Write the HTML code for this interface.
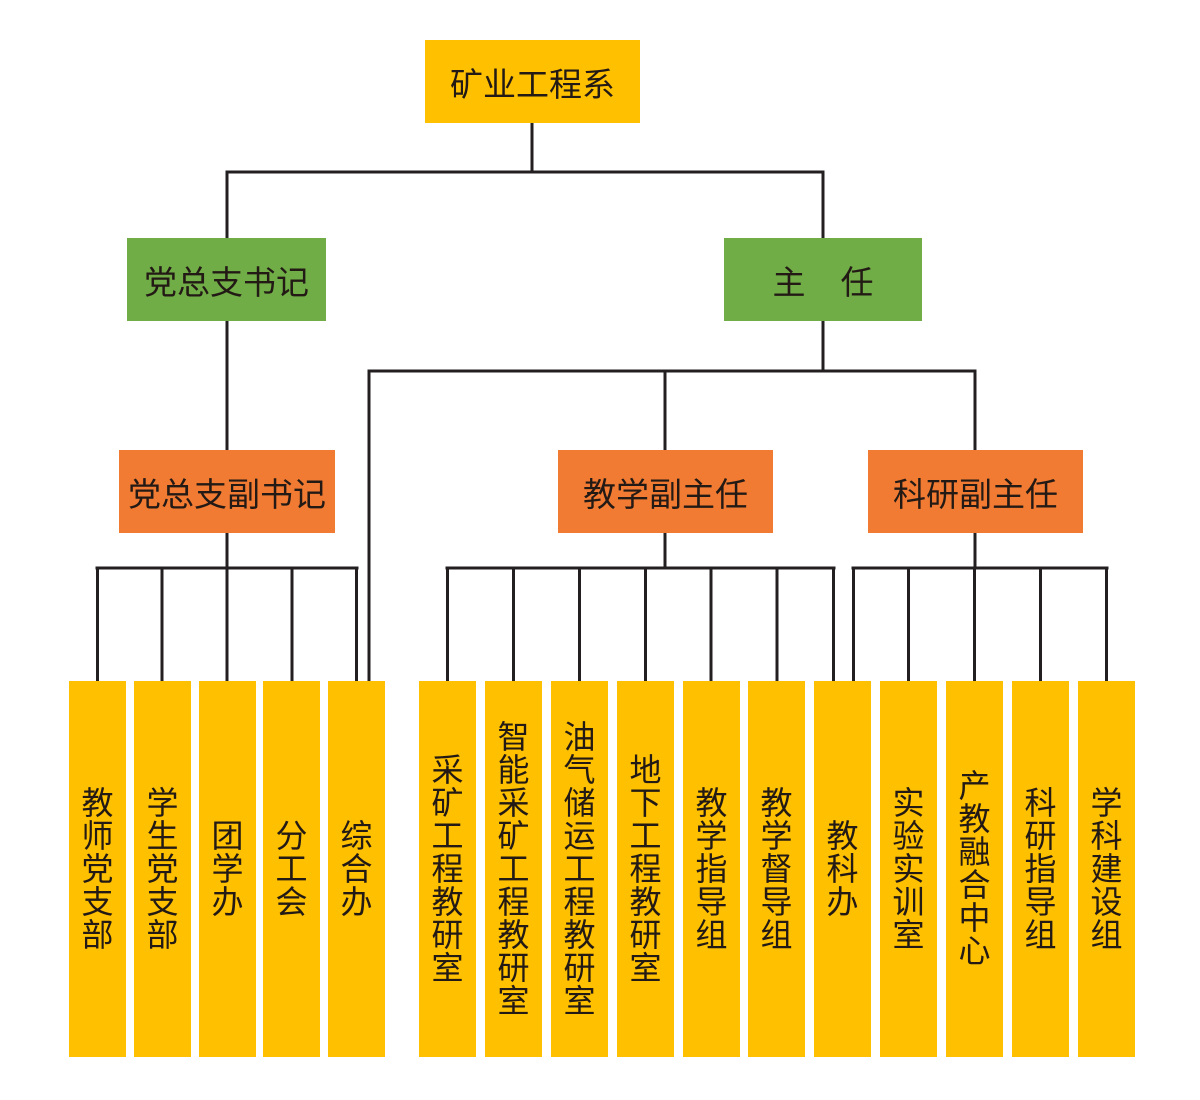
<!DOCTYPE html>
<html><head><meta charset="utf-8"><style>
html,body{margin:0;padding:0;background:#fff;}
body{width:1200px;height:1100px;position:relative;overflow:hidden;font-family:"Liberation Sans","Noto Sans CJK SC",sans-serif;color:#231a15;}
.b{position:absolute;display:flex;align-items:center;justify-content:center;font-size:33px;white-space:nowrap;}
.y{background:#FFC000;}
.g{background:#70AD47;}
.o{background:#F17B32;}
.v{position:absolute;top:681px;height:376px;width:57px;background:#FFC000;display:flex;flex-direction:column;align-items:center;justify-content:center;font-size:32px;line-height:33px;}
.v span{display:block;height:33px;}
svg{position:absolute;left:0;top:0;}
</style></head><body>
<svg width="1200" height="1100" viewBox="0 0 1200 1100">
<g stroke="#231f20" stroke-width="3" fill="none" stroke-linecap="square">
<line x1="532" y1="123" x2="532" y2="172"/>
<line x1="227" y1="172" x2="823" y2="172"/>
<line x1="227" y1="172" x2="227" y2="238"/>
<line x1="823" y1="172" x2="823" y2="238"/>
<line x1="227" y1="321" x2="227" y2="450"/>
<line x1="823" y1="321" x2="823" y2="371"/>
<line x1="369" y1="371" x2="975" y2="371"/>
<line x1="369" y1="371" x2="369" y2="681"/>
<line x1="665" y1="371" x2="665" y2="450"/>
<line x1="975" y1="371" x2="975" y2="450"/>
<line x1="227" y1="533" x2="227" y2="568"/>
<line x1="97" y1="568" x2="357" y2="568"/>
<line x1="97.5" y1="568" x2="97.5" y2="681"/>
<line x1="162" y1="568" x2="162" y2="681"/>
<line x1="227" y1="568" x2="227" y2="681"/>
<line x1="292" y1="568" x2="292" y2="681"/>
<line x1="356.5" y1="568" x2="356.5" y2="681"/>
<line x1="665" y1="533" x2="665" y2="568"/>
<line x1="447" y1="568" x2="834" y2="568"/>
<line x1="447.5" y1="568" x2="447.5" y2="681"/>
<line x1="513.5" y1="568" x2="513.5" y2="681"/>
<line x1="579.5" y1="568" x2="579.5" y2="681"/>
<line x1="645.5" y1="568" x2="645.5" y2="681"/>
<line x1="711" y1="568" x2="711" y2="681"/>
<line x1="777" y1="568" x2="777" y2="681"/>
<line x1="833.5" y1="568" x2="833.5" y2="681"/>
<line x1="975" y1="533" x2="975" y2="568"/>
<line x1="853" y1="568" x2="1107" y2="568"/>
<line x1="853.5" y1="568" x2="853.5" y2="681"/>
<line x1="908.5" y1="568" x2="908.5" y2="681"/>
<line x1="974.5" y1="568" x2="974.5" y2="681"/>
<line x1="1040.5" y1="568" x2="1040.5" y2="681"/>
<line x1="1106.5" y1="568" x2="1106.5" y2="681"/>
</g>
</svg>

<div class="b y" style="left:425px;top:40px;width:215px;height:83px;">矿业工程系</div>
<div class="b g" style="left:127px;top:238px;width:199px;height:83px;">党总支书记</div>
<div class="b g" style="left:724px;top:238px;width:198px;height:83px;">主<span style="display:inline-block;width:35px"></span>任</div>
<div class="b o" style="left:119px;top:450px;width:216px;height:83px;">党总支副书记</div>
<div class="b o" style="left:558px;top:450px;width:215px;height:83px;">教学副主任</div>
<div class="b o" style="left:868px;top:450px;width:215px;height:83px;">科研副主任</div>

<div class="v" style="left:69px"><span>教</span><span>师</span><span>党</span><span>支</span><span>部</span></div>
<div class="v" style="left:134px"><span>学</span><span>生</span><span>党</span><span>支</span><span>部</span></div>
<div class="v" style="left:199px"><span>团</span><span>学</span><span>办</span></div>
<div class="v" style="left:263px"><span>分</span><span>工</span><span>会</span></div>
<div class="v" style="left:328px"><span>综</span><span>合</span><span>办</span></div>

<div class="v" style="left:419px"><span>采</span><span>矿</span><span>工</span><span>程</span><span>教</span><span>研</span><span>室</span></div>
<div class="v" style="left:485px"><span>智</span><span>能</span><span>采</span><span>矿</span><span>工</span><span>程</span><span>教</span><span>研</span><span>室</span></div>
<div class="v" style="left:551px"><span>油</span><span>气</span><span>储</span><span>运</span><span>工</span><span>程</span><span>教</span><span>研</span><span>室</span></div>
<div class="v" style="left:617px"><span>地</span><span>下</span><span>工</span><span>程</span><span>教</span><span>研</span><span>室</span></div>
<div class="v" style="left:683px"><span>教</span><span>学</span><span>指</span><span>导</span><span>组</span></div>
<div class="v" style="left:748px"><span>教</span><span>学</span><span>督</span><span>导</span><span>组</span></div>
<div class="v" style="left:814px"><span>教</span><span>科</span><span>办</span></div>
<div class="v" style="left:880px"><span>实</span><span>验</span><span>实</span><span>训</span><span>室</span></div>
<div class="v" style="left:946px"><span>产</span><span>教</span><span>融</span><span>合</span><span>中</span><span>心</span></div>
<div class="v" style="left:1012px"><span>科</span><span>研</span><span>指</span><span>导</span><span>组</span></div>
<div class="v" style="left:1078px"><span>学</span><span>科</span><span>建</span><span>设</span><span>组</span></div>
</body></html>
